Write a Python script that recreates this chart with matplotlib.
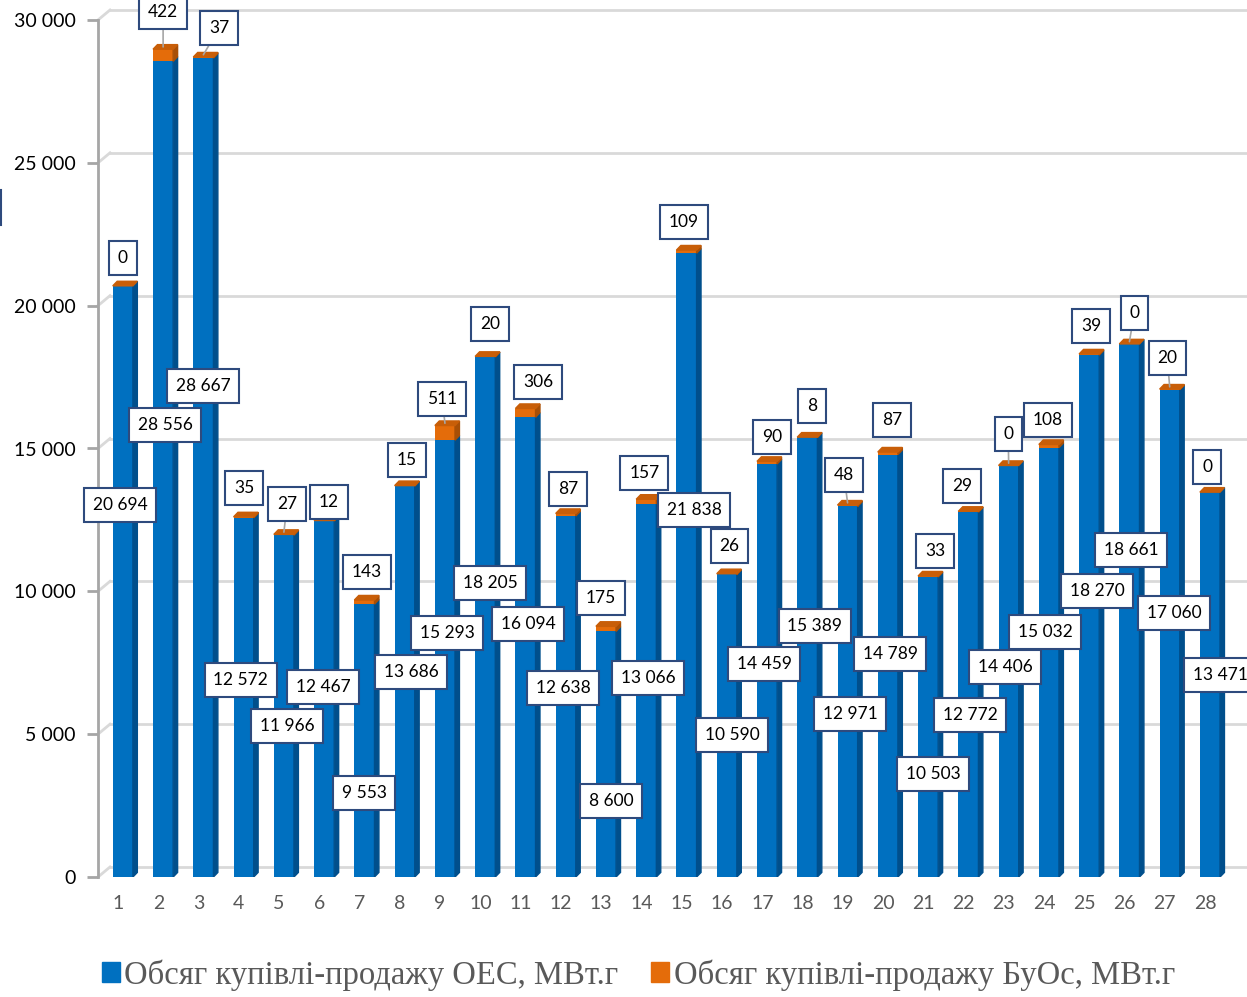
import matplotlib.pyplot as plt
from matplotlib.patches import Patch
from matplotlib.lines import Line2D

# DATA
days = list(range(1, 29))
oes = [20694, 28556, 28667, 12572, 11966, 12467, 9553, 13686, 15293, 18205,
       16094, 12638, 8600, 13066, 21838, 10590, 14459, 15389, 12971, 14789,
       10503, 12772, 14406, 15032, 18270, 18661, 17060, 13471]
buos = [0, 422, 37, 35, 27, 12, 143, 15, 511, 20,
        306, 87, 175, 157, 109, 26, 90, 8, 48, 87,
        33, 29, 0, 108, 39, 0, 20, 0]

# label placement (data coords) for the two series
oes_lab_x = [1.05, 2.17, 3.11, 4.05, 5.20, 6.09, 7.11, 8.28, 9.17, 10.24,
             11.18, 12.05, 13.25, 14.16, 15.31, 16.25, 17.05, 18.31, 19.18, 20.18,
             21.24, 22.16, 23.03, 24.03, 25.32, 26.16, 27.23, 28.37]
oes_lab_y = [13020, 15820, 17185, 6895, 5285, 6650, 2940, 7175, 8540, 10290,
             8855, 6615, 2660, 6965, 12845, 4970, 7455, 8785, 5705, 7805,
             3605, 5670, 7350, 8575, 10010, 11445, 9240, 7070]
buos_lab_x = [1.12, 2.12, 3.51, 4.13, 5.20, 6.24, 7.18, 8.18, 9.05, 10.24,
              11.43, 12.18, 13.00, 14.07, 15.06, 16.18, 17.24, 18.24, 19.03, 20.23,
              21.29, 21.96, 23.11, 24.10, 25.17, 26.24, 27.06, 28.05]
buos_lab_y = [21665, 30275, 29715, 13615, 13055, 13125, 10675, 14595, 16730, 19355,
              17325, 13580, 9765, 14140, 22925, 11585, 15400, 16485, 14070, 15995,
              11410, 13685, 15505, 15995, 19285, 19740, 18165, 14350]
leader = [2, 3, 5, 9, 19, 23, 26, 27]

blue = '#0070C0'
blue_side = '#004F8C'
orange = '#E46C0A'
orange_side = '#A84F06'
orange_top = '#C85E08'
grid_c = '#D9D9D9'
axis_c = '#A6A6A6'

plt.rcParams['font.family'] = ['Lato', 'DejaVu Sans']

fig = plt.figure(figsize=(12.47, 9.97), dpi=100)
ax = fig.add_axes([98 / 1247, (997 - 877) / 997, (1247 - 98) / 1247, 857 / 997])
xmin, xmax = 0.503, 29.04
ax.set_xlim(xmin, xmax)
ax.set_ylim(0, 30000)

# back wall gridlines with perspective
gx0 = xmin + 12 / 40.26
gdy = 350
for v in range(0, 30001, 5000):
    ax.plot([gx0, xmax], [v + gdy, v + gdy], color=grid_c, lw=2, zorder=0, clip_on=False)
    ax.plot([xmin, gx0], [v, v + gdy], color=grid_c, lw=2, zorder=0, clip_on=False)

# BARS (pseudo 3d)
w = 0.5
dx = 0.11
dy = 160
for i in range(len(days)):
    x = days[i] + 0.12
    b = oes[i]
    o = buos[i]
    left = x - w / 2
    right = x + w / 2
    t = b + o
    ax.bar(x, b, width=w, color=blue, zorder=2)
    ax.fill([right, right + dx, right + dx, right], [0, dy, b + dy, b], color=blue_side, zorder=2)
    if o > 0:
        ax.bar(x, o, bottom=b, width=w, color=orange, zorder=2)
        ax.fill([right, right + dx, right + dx, right], [b, b + dy, t + dy, t], color=orange_side, zorder=2)
    ax.fill([left, right, right + dx, left + dx], [t, t, t + dy, t + dy], color=orange_top, zorder=2)

# LABELS
bbox = dict(boxstyle='square,pad=0.5', fc='white', ec='#2E4A7D', lw=1.5)
for i in range(len(days)):
    x = days[i] + 0.12
    ax.text(oes_lab_x[i], oes_lab_y[i], f"{oes[i]:,}".replace(',', ' '), ha='center', va='center',
            fontsize=12.5, bbox=bbox, zorder=5)
    t = oes[i] + buos[i]
    if days[i] in leader:
        ax.annotate(str(buos[i]), xy=(x, t + dy / 2), xytext=(buos_lab_x[i], buos_lab_y[i]),
                    ha='center', va='center', fontsize=12.5, bbox=bbox, zorder=5,
                    annotation_clip=False,
                    arrowprops=dict(arrowstyle='-', color=axis_c, lw=1.2, shrinkA=0, shrinkB=0))
    else:
        ax.text(buos_lab_x[i], buos_lab_y[i], str(buos[i]), ha='center', va='center',
                fontsize=12.5, bbox=bbox, zorder=5, clip_on=False)

# AXES
for s in ['top', 'right', 'bottom']:
    ax.spines[s].set_visible(False)
ax.spines['left'].set_color(axis_c)
ax.spines['left'].set_linewidth(2)
ax.set_yticks(range(0, 30001, 5000))
ax.set_yticklabels([f"{v:,}".replace(',', ' ') for v in range(0, 30001, 5000)])
ax.tick_params(axis='y', length=8, width=2, color=axis_c, labelsize=14, pad=8, labelcolor='black')
ax.set_xticks(days)
ax.set_xticklabels([str(d) for d in days])
ax.tick_params(axis='x', length=0, labelsize=14, pad=13, labelcolor='#595959')

# small stray mark on the left edge
fig.add_artist(Line2D([1 / 1247, 1 / 1247], [1 - 190 / 997, 1 - 225 / 997], color='#2E4A7D', lw=1.5))

handles = [Patch(color=blue, label='Обсяг купівлі-продажу ОЕС, МВт.г'),
           Patch(color=orange, label='Обсяг купівлі-продажу БуОс, МВт.г')]
fig.legend(handles=handles, loc='center', bbox_to_anchor=(0.512, 0.022), ncol=2, frameon=False,
           prop={'family': 'Liberation Serif', 'size': 23.5}, labelcolor='#595959',
           handlelength=0.55, handleheight=0.55, handletextpad=0.15, columnspacing=1.0)

fig.savefig('out.png', dpi=100)
